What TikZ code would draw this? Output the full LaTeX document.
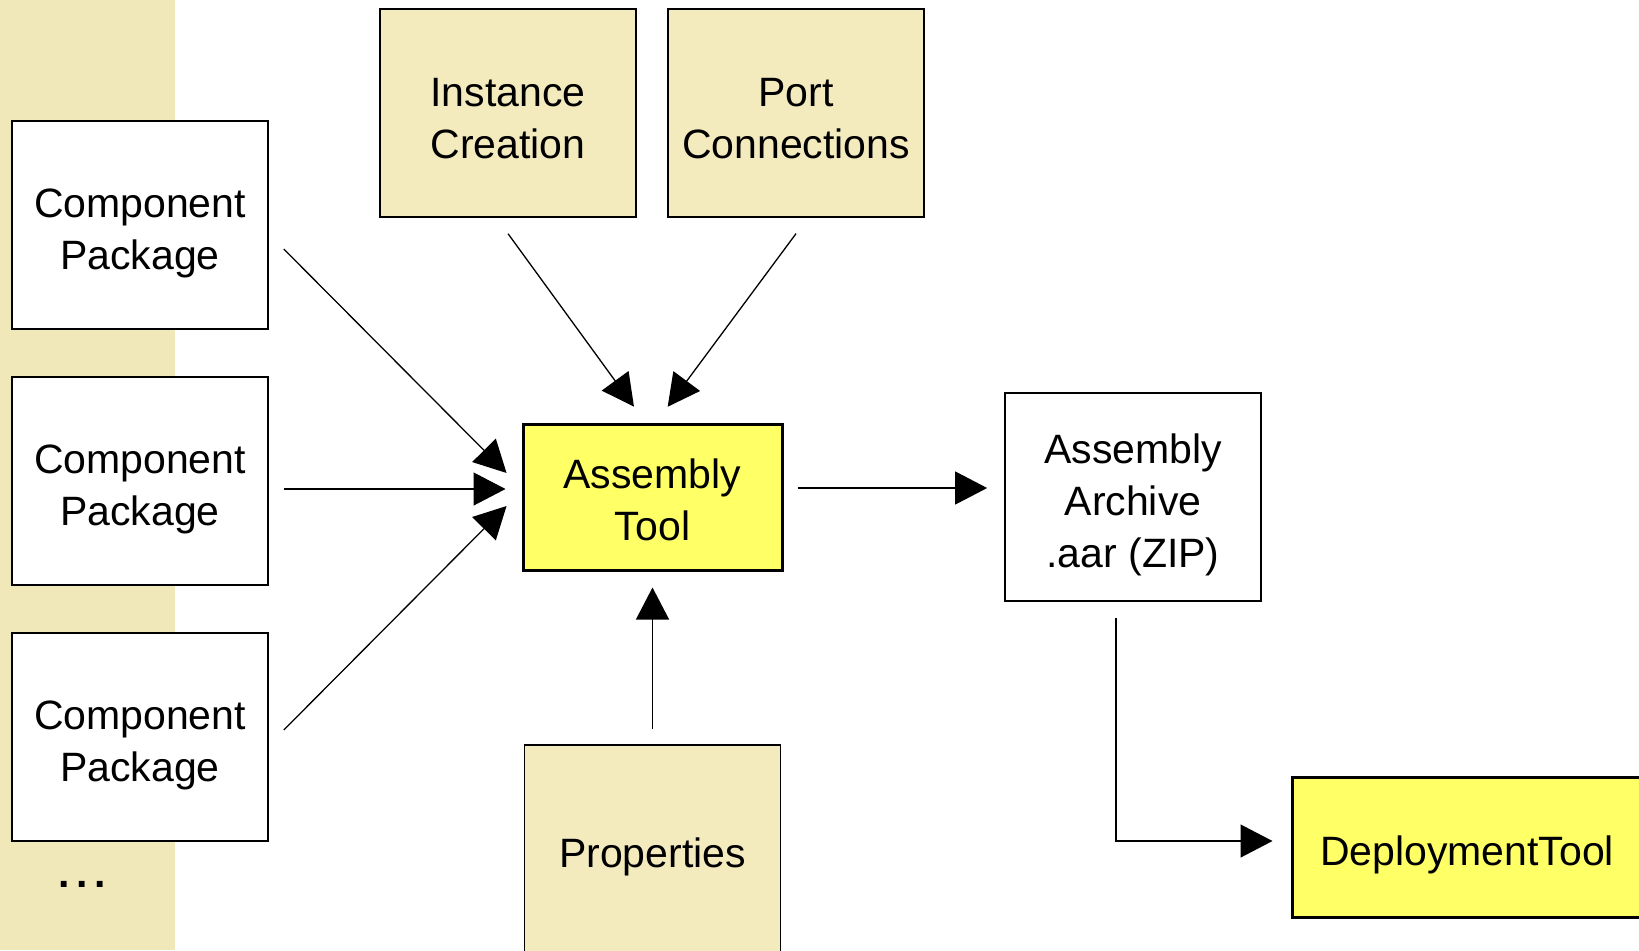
\documentclass[tikz,border=0pt]{standalone}
\usepackage{fontspec}
\setmainfont{Liberation Sans}
\usetikzlibrary{arrows.meta}

\definecolor{panel}{RGB}{243,234,190}
\definecolor{toolyellow}{RGB}{255,255,102}
\definecolor{strip}{RGB}{241,232,186}

\tikzset{
  textdrop/.store in=\dropht, textdrop=49pt,
  box/.style={draw, line width=0.85pt, minimum width=128pt, minimum height=104pt, align=center, inner sep=0pt, font=\fontsize{20.5pt}{26pt}\selectfont, execute at begin node={\rule{0pt}{\dropht}}},
  pkg/.style={box, fill=white},
  input/.style={box, fill=panel},
  tool/.style={box, fill=toolyellow, line width=1.5pt},
  conn/.style={line width=0.65pt, -{Triangle[length=16pt,width=16.5pt]}}
}

\begin{document}
\begin{tikzpicture}[x=0.5pt,y=-0.5pt]
\clip (0,0) rectangle (1639,950);
\fill[strip] (0,0) rectangle (175,950);
\node[pkg] (cp1) at (140,225) {Component\\Package};
\node[pkg] (cp2) at (140,481) {Component\\Package};
\node[pkg] (cp3) at (140,737) {Component\\Package};
\node[font=\fontsize{20.5pt}{26pt}\selectfont\bfseries, inner sep=0pt] (dots) at (82,884) {.\,.\,.};
\node[input, textdrop=45.2pt] (inst) at (508,113) {Instance\\Creation};
\node[input, textdrop=45.2pt] (port) at (796,113) {Port\\Connections};
\node[tool, minimum width=129.5pt, minimum height=73pt, textdrop=43.5pt] (asm) at (652.5,497) {Assembly\\Tool};
\node[pkg, textdrop=75pt] (aar) at (1133,497) {Assembly\\Archive\\.aar (ZIP)};
\node[input, textdrop=22.8pt] (prop) at (652.5,849) {Properties};
\node[tool, minimum width=175pt, minimum height=70pt, textdrop=22.8pt] (dep) at (1467,847) {DeploymentTool};
\draw[conn, shorten <=10.6pt, shorten >=10.6pt] ([yshift=-4.5pt]cp1.east) -- ([yshift=4.5pt]asm.west);
\draw[conn, shorten <=7.5pt, shorten >=8pt] ([yshift=-4pt]cp2.east) -- ([yshift=4pt]asm.west);
\draw[conn, shorten <=10.6pt, shorten >=10.6pt] ([yshift=-4pt]cp3.east) -- ([yshift=3pt]asm.west);
\draw[conn, shorten <=9.8pt, shorten >=9.8pt] ([xshift=-5.75pt]inst.south) -- ([xshift=-3.5pt]asm.north);
\draw[conn, shorten <=9.8pt, shorten >=9.8pt] ([xshift=5.85pt]port.south) -- ([xshift=1.75pt]asm.north);
\draw[conn, shorten <=7.5pt, shorten >=8pt] (prop.north) -- (asm.south);
\draw[conn, shorten <=7pt, shorten >=8.5pt] ([yshift=4.5pt]asm.east) -- ([yshift=4.5pt]aar.west);
\draw[conn, shorten <=8pt, shorten >=9pt] ([xshift=-8.5pt]aar.south) |- ([yshift=3pt]dep.west);
\end{tikzpicture}
\end{document}
